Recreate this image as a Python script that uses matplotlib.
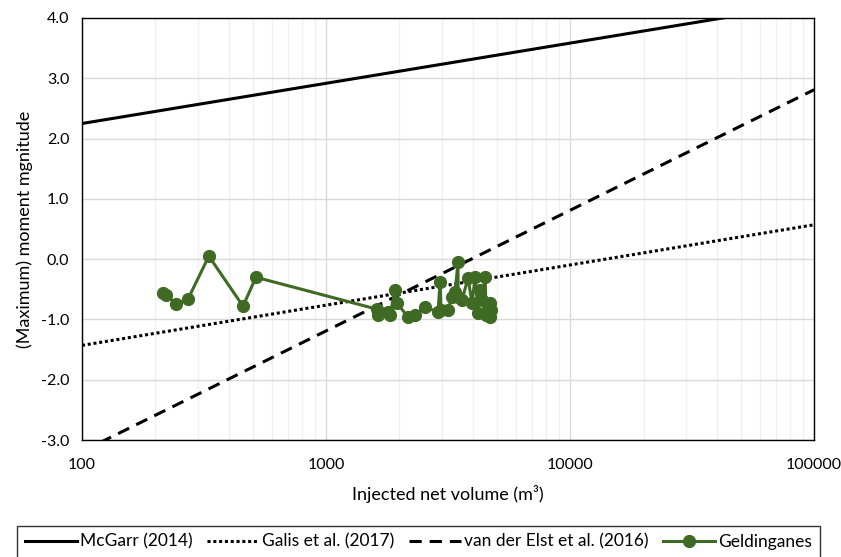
import matplotlib
matplotlib.use("Agg")
import matplotlib.pyplot as plt
from matplotlib.ticker import FixedLocator, FixedFormatter, NullFormatter, FormatStrFormatter
import numpy as np

plt.rcParams['font.family'] = ['Lato', 'DejaVu Sans']

# reference lines, read at the ends of the x range
line_volume = [100, 100000]
mcgarr = [2.25, 4.25]
galis = [-1.43, 0.57]
van_der_elst = [-3.19, 2.81]

# Geldinganes observations (cumulative injected net volume, Mw)
geld_volume = [215, 221, 243, 272, 331, 457, 516, 1618, 1634, 1795, 1830, 1918,
               1954, 2168, 2317, 2547, 2877, 2933, 2960, 3162, 3282, 3380, 3475,
               3475, 3607, 3820, 3964, 4083, 4198, 4276, 4357, 4487, 4529, 4613,
               4699, 4744, 4700]
geld_mag = [-0.56, -0.59, -0.74, -0.66, 0.05, -0.78, -0.30, -0.83, -0.93, -0.88,
            -0.93, -0.51, -0.73, -0.96, -0.93, -0.79, -0.88, -0.38, -0.84, -0.84,
            -0.63, -0.54, -0.05, -0.63, -0.68, -0.31, -0.73, -0.30, -0.89, -0.51,
            -0.68, -0.30, -0.93, -0.76, -0.96, -0.84, -0.73]

x_ticks = [100, 1000, 10000, 100000]
y_ticks = [-3, -2, -1, 0, 1, 2, 3, 4]

green = '#3e6a24'

fig = plt.figure(figsize=(8.41, 5.57), dpi=100)
ax = fig.add_axes([0.0975, 0.21, 0.8705, 0.7577])

ax.plot(line_volume, mcgarr, color='black', lw=2.2, label='McGarr (2014)')
ax.plot(line_volume, galis, color='black', lw=2.2, linestyle=(0, (1, 0.9)),
        label='Galis et al. (2017)')
ax.plot(line_volume, van_der_elst, color='black', lw=2.2, linestyle=(0, (4, 2.6)),
        label='van der Elst et al. (2016)')
ax.plot(geld_volume, geld_mag, color=green, lw=2.2, marker='o', markersize=8.5,
        label='Geldinganes')

ax.set_xscale('log')
ax.set_xlim(100, 100000)
ax.set_ylim(-3, 4)

ax.xaxis.set_major_locator(FixedLocator(x_ticks))
ax.xaxis.set_major_formatter(FixedFormatter([str(v) for v in x_ticks]))
ax.xaxis.set_minor_formatter(NullFormatter())
ax.yaxis.set_major_locator(FixedLocator(y_ticks))
ax.yaxis.set_major_formatter(FormatStrFormatter('%.1f'))

ax.grid(True, which='major', color='#d9d9d9', lw=1.0)
ax.grid(True, which='minor', axis='x', color='#f0f0f0', lw=1.0)
ax.set_axisbelow(True)
ax.tick_params(which='both', length=0)
ax.tick_params(axis='x', pad=13, labelsize=11.5)
ax.tick_params(axis='y', pad=9, labelsize=11.5)
for s in ax.spines.values():
    s.set_color('black')
    s.set_linewidth(1.0)

ax.set_xlabel('Injected net volume (m³)', fontsize=13, labelpad=9)
ax.set_ylabel('(Maximum) moment mgnitude', fontsize=13, labelpad=6)

leg = fig.legend(loc='upper center', bbox_to_anchor=(0.4975, 0.0557), ncol=4,
                 frameon=True, fancybox=False, edgecolor='black', fontsize=12.5,
                 handlelength=3.0, handletextpad=0.2, columnspacing=0.8,
                 borderpad=0.45, borderaxespad=0)
leg.get_frame().set_linewidth(1.0)

fig.savefig('out.png', dpi=100)
